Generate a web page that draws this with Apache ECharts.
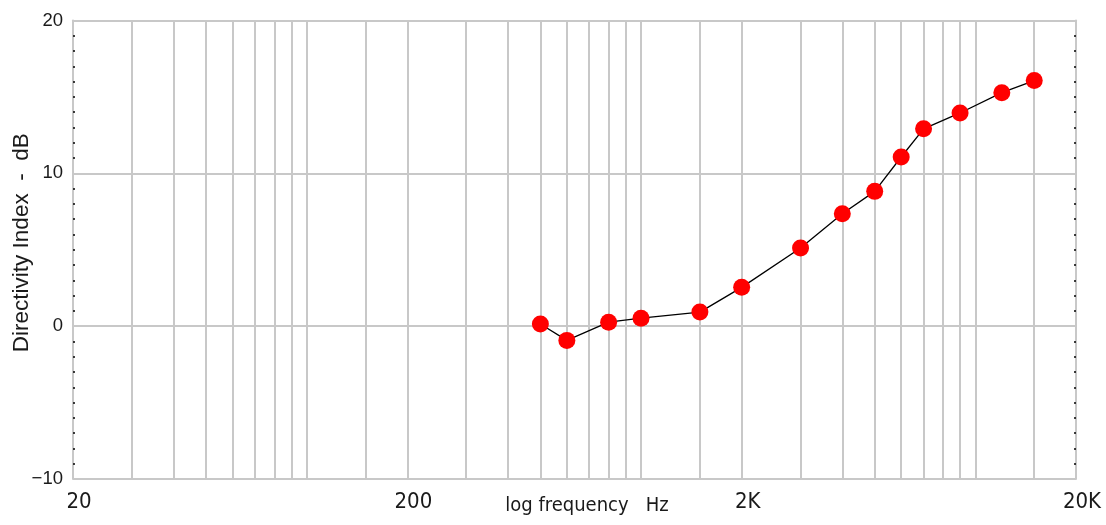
<!DOCTYPE html>
<html><head><meta charset="utf-8">
<script src="https://cdn.jsdelivr.net/npm/echarts@6/dist/echarts.min.js"></script>
<style>html,body{margin:0;padding:0;background:#fff}#c{width:1106px;height:525px}</style>
</head><body><div id="c"></div>
<script>
// Data
const freqs = [500, 600, 800, 1000, 1500, 2000, 3000, 4000, 5000, 6000, 7000, 9000, 12000, 15000];
const directivityDb = [0.14, -0.93, 0.26, 0.52, 0.92, 2.54, 5.12, 7.36, 8.82, 11.07, 12.91, 13.95, 15.28, 16.07];
// Axis tick / grid positions
const xGridValues = [20,30,40,50,60,70,80,90,100,150,200,300,400,500,600,700,800,900,1000,1500,2000,3000,4000,5000,6000,7000,8000,9000,10000,15000,20000];
const xLabelValues = [20, 200, 2000, 20000];
const xLabelText = {20: '20', 200: '200', 2000: '2K', 20000: '20K'};
const yMin = -10, yMax = 20, yStep = 10;

const narrow = "'Liberation Sans Narrow', 'Arial Narrow', 'DejaVu Sans Condensed', 'Liberation Sans', sans-serif";
const regular = "'Liberation Sans', Arial, sans-serif";
const gridColor = '#c8c8c8';

const chart = echarts.init(document.getElementById('c'), null, {renderer: 'canvas'});
chart.setOption({
  animation: false,
  backgroundColor: '#ffffff',
  grid: {left: 73, right: 30, top: 20.5, bottom: 46, containLabel: false, outerBoundsMode: 'none'},
  xAxis: {
    type: 'log', logBase: 10, min: 20, max: 20000,
    name: 'log frequency   Hz', nameLocation: 'middle', nameGap: 17, nameMoveOverlap: false,
    nameTextStyle: {fontFamily: narrow, fontSize: 20, color: '#1a1a1a', padding: [0, 0, 0, 25]},
    axisLine: {show: true, lineStyle: {color: gridColor, width: 2}},
    axisTick: {show: false, customValues: xGridValues},
    axisLabel: {
      customValues: xLabelValues, margin: 12,
      fontFamily: narrow, fontSize: 22, color: '#1a1a1a', padding: [0, 0, 0, 12],
      formatter: v => xLabelText[Math.round(v)] || ''
    },
    splitLine: {show: true, lineStyle: {color: gridColor, width: 2}},
    minorTick: {show: false}, minorSplitLine: {show: false}
  },
  yAxis: [{
    type: 'value', min: yMin, max: yMax, interval: yStep,
    name: 'Directivity Index  -  dB', nameLocation: 'middle', nameGap: 40, nameRotate: 90, nameMoveOverlap: false,
    nameTextStyle: {fontFamily: regular, fontSize: 22.5, color: '#1a1a1a', padding: [0, 0, 0, 14]},
    axisLine: {show: true, lineStyle: {color: gridColor, width: 2}},
    axisTick: {show: false, inside: true},
    minorTick: {show: true, splitNumber: 10, length: 2, lineStyle: {color: '#000', width: 1.5}},
    axisLabel: {margin: 10, fontFamily: regular, fontSize: 18.5, color: '#1a1a1a',
      formatter: v => String(v).replace('-', '\u2212')},
    splitLine: {show: true, lineStyle: {color: gridColor, width: 2}}
  }, {
    type: 'value', min: yMin, max: yMax, interval: yStep, position: 'right',
    axisLine: {show: true, lineStyle: {color: gridColor, width: 2}},
    axisTick: {show: false, inside: true},
    minorTick: {show: true, splitNumber: 10, length: 2, lineStyle: {color: '#000', width: 1.5}},
    axisLabel: {show: false},
    splitLine: {show: false}
  }],
  series: [{
    type: 'line',
    data: freqs.map((f, i) => [f, directivityDb[i]]),
    symbol: 'circle', symbolSize: 17,
    itemStyle: {color: '#ff0000', borderWidth: 0},
    lineStyle: {color: '#000000', width: 1.3},
    z: 5
  }]
});
</script></body></html>
